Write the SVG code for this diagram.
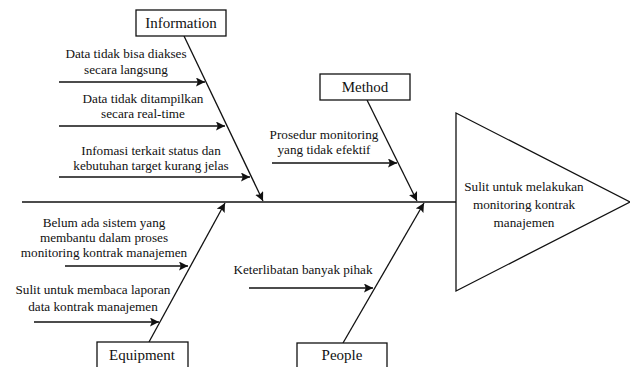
<svg xmlns="http://www.w3.org/2000/svg" width="630" height="367" viewBox="0 0 630 367">
<defs>
<marker id="ah" viewBox="0 0 10 10" refX="10" refY="5" markerWidth="9" markerHeight="9" markerUnits="userSpaceOnUse" orient="auto">
<path d="M0,0 L10,5 L0,10 L2,5 Z" fill="#111"/>
</marker>
<style>
.ln{stroke:#111;stroke-width:1.3;fill:none}
.ar{stroke:#111;stroke-width:1.3;fill:none;marker-end:url(#ah)}
.box{fill:#fff;stroke:#111;stroke-width:1.3}
.t{font-family:"Liberation Serif","Times New Roman",serif;font-size:13.2px;fill:#111;text-anchor:middle}
.h{font-family:"Liberation Serif","Times New Roman",serif;font-size:15px;fill:#111;text-anchor:middle}
</style>
</defs>
<rect width="630" height="367" fill="#fff"/>
<g id="connectors">
<line class="ln" x1="22" y1="202" x2="456" y2="202"/>
<line class="ar" x1="184" y1="36" x2="263" y2="201"/>
<line class="ar" x1="367" y1="100" x2="417" y2="201"/>
<line class="ar" x1="149" y1="342" x2="225" y2="203"/>
<line class="ar" x1="343" y1="343" x2="424" y2="203"/>
<line class="ar" x1="59" y1="82" x2="205" y2="82"/>
<line class="ar" x1="59" y1="126" x2="225" y2="126"/>
<line class="ar" x1="59" y1="177" x2="250" y2="177"/>
<line class="ar" x1="272" y1="163" x2="397" y2="163"/>
<line class="ar" x1="65" y1="266" x2="188" y2="266"/>
<line class="ar" x1="34" y1="322" x2="159" y2="322"/>
<line class="ar" x1="249" y1="288" x2="373" y2="288"/>
</g>
<g id="information">
<rect class="box" x="136" y="10" width="90" height="26"/>
<text class="h" x="181" y="28">Information</text>
</g>
<g id="method">
<rect class="box" x="320" y="74" width="90" height="26"/>
<text class="h" x="365" y="92">Method</text>
</g>
<g id="equipment">
<rect class="box" x="97" y="342" width="91" height="27"/>
<text class="h" x="142" y="360">Equipment</text>
</g>
<g id="people">
<rect class="box" x="297" y="343" width="90" height="27"/>
<text class="h" x="342" y="360">People</text>
</g>
<g id="effect">
<polygon class="box" points="456,113 630,202 456,291"/>
<text class="t" x="524" y="191">Sulit untuk melakukan</text>
<text class="t" x="524" y="209">monitoring kontrak</text>
<text class="t" x="524" y="227">manajemen</text>
</g>
<g id="cause-info-1">
<text class="t" x="126" y="58">Data tidak bisa diakses</text>
<text class="t" x="126" y="74">secara langsung</text>
</g>
<g id="cause-info-2">
<text class="t" x="143" y="103">Data tidak ditampilkan</text>
<text class="t" x="143" y="118">secara real-time</text>
</g>
<g id="cause-info-3">
<text class="t" x="151" y="155">Infomasi terkait status dan</text>
<text class="t" x="151" y="170">kebutuhan target kurang jelas</text>
</g>
<g id="cause-method-1">
<text class="t" x="324" y="139">Prosedur monitoring</text>
<text class="t" x="324" y="154">yang tidak efektif</text>
</g>
<g id="cause-equip-1">
<text class="t" x="104" y="227">Belum ada sistem yang</text>
<text class="t" x="104" y="242">membantu dalam proses</text>
<text class="t" x="104" y="257">monitoring kontrak manajemen</text>
</g>
<g id="cause-equip-2">
<text class="t" x="93" y="294">Sulit untuk membaca laporan</text>
<text class="t" x="93" y="311">data kontrak manajemen</text>
</g>
<g id="cause-people-1">
<text class="t" x="303" y="274">Keterlibatan banyak pihak</text>
</g>
</svg>
